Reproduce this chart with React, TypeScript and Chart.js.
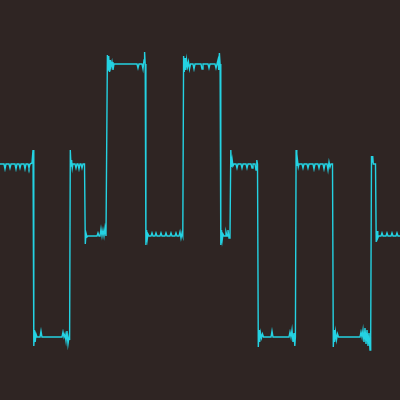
import React, { useEffect, useRef } from "react";
import { Chart, registerables } from "chart.js";

Chart.register(...registerables);

// Sample times (horizontal position, 0..400) and signal values
const times: number[] = [
  // level +0.36
  0, 4, 5, 6, 9, 10, 11, 15, 16, 17, 19, 20, 21, 24, 25, 26, 28, 29, 30, 32, 33,
  // level -1.37
  33.8, 34.5, 35.2, 36, 37, 40, 41, 42, 62, 63, 64, 65, 66, 67, 68, 69, 69.6,
  // level +0.36
  70.3, 71, 71.6, 72.3, 73, 75, 76, 77, 78, 79, 80, 81, 82, 83, 84.5,
  // level -0.36
  85.3, 86, 87, 88, 97, 98, 99, 100, 101, 102, 103, 104, 105, 106, 106.6,
  // level +1.36
  107.4, 108, 108.7, 109.5, 110.3, 111, 112, 113, 114, 137, 138, 139, 142, 143, 144, 144.6, 145.2,
  // level -0.36
  145.9, 146.6, 147.3, 148, 149, 151, 152, 153, 155, 156, 157, 160, 161, 162, 165, 166, 167, 170, 171, 172, 175, 176, 177, 179, 180, 181, 182, 182.8,
  // level +1.36
  183.6, 184.3, 185, 185.8, 186.6, 187.5, 188.5, 189.5, 190.5, 193, 194, 195, 201, 202, 203, 208, 209, 210, 215, 216, 217, 218, 218.7, 219.4, 220.1,
  // level -0.36
  220.8, 221.5, 222.2, 223, 224, 225, 226, 227, 228, 229, 230,
  // level +0.36
  230.8, 231.5, 232.2, 233, 234, 236, 237, 238, 241, 242, 243, 246, 247, 248, 251, 252, 253, 255, 256, 256.8, 257.5,
  // level -1.37
  258.3, 259, 259.7, 260.5, 261.5, 262.5, 263.5, 271, 272, 273, 289, 290, 291, 292, 293, 294, 294.8, 295.4,
  // level +0.36
  296.1, 296.8, 297.5, 298.3, 299, 302, 303, 304, 307, 308, 309, 313, 314, 315, 318, 319, 320, 323, 324, 325, 327, 328, 329, 330, 331, 332.5,
  // level -1.37
  333.3, 334, 334.7, 335.5, 336.5, 337.5, 338.5, 360, 361, 362, 363, 364, 365, 366, 367, 368, 369, 370, 370.7,
  // level +0.36
  371.5, 372.1, 372.7, 373.3, 374, 375.5,
  // level -0.36
  376.2, 377, 377.8, 378.6, 381, 382, 383, 386, 387, 388, 391, 392, 393, 396, 397, 398, 400,
];

const values: number[] = [
  0.36, 0.36, 0.31, 0.36, 0.36, 0.32, 0.36, 0.36, 0.31, 0.36, 0.36, 0.32, 0.36, 0.36, 0.31, 0.36, 0.36, 0.32, 0.36, 0.37, 0.5,
  -1.46, -1.3, -1.42, -1.34, -1.37, -1.37, -1.31, -1.37, -1.37, -1.32, -1.37, -1.34, -1.41, -1.31, -1.44, -1.37, -1.4,
  0.5, 0.34, 0.4, 0.32, 0.36, 0.36, 0.32, 0.36, 0.36, 0.31, 0.36, 0.36, 0.32, 0.36, 0.36,
  -0.44, -0.33, -0.37, -0.36, -0.36, -0.33, -0.36, -0.36, -0.29, -0.36, -0.3, -0.36, -0.28, -0.36, -0.36,
  1.45, 1.3, 1.44, 1.28, 1.4, 1.33, 1.38, 1.3, 1.36, 1.36, 1.32, 1.36, 1.36, 1.31, 1.4, 1.48, 1.36,
  -0.45, -0.3, -0.39, -0.34, -0.36, -0.36, -0.33, -0.36, -0.36, -0.33, -0.36, -0.36, -0.33, -0.36, -0.36, -0.33, -0.36, -0.36, -0.33, -0.36, -0.36, -0.33, -0.36, -0.36, -0.32, -0.38, -0.33, -0.36,
  1.44, 1.28, 1.42, 1.3, 1.4, 1.33, 1.38, 1.31, 1.36, 1.36, 1.31, 1.36, 1.36, 1.31, 1.36, 1.36, 1.32, 1.36, 1.36, 1.32, 1.36, 1.4, 1.3, 1.47, 1.36,
  -0.45, -0.3, -0.4, -0.34, -0.36, -0.36, -0.32, -0.36, -0.3, -0.38, -0.36,
  0.5, 0.33, 0.4, 0.34, 0.36, 0.36, 0.32, 0.36, 0.36, 0.32, 0.36, 0.36, 0.32, 0.36, 0.36, 0.32, 0.36, 0.36, 0.3, 0.4, 0.36,
  -1.47, -1.3, -1.42, -1.33, -1.38, -1.34, -1.37, -1.37, -1.31, -1.37, -1.37, -1.32, -1.37, -1.3, -1.42, -1.33, -1.46, -1.37,
  0.5, 0.34, 0.4, 0.33, 0.36, 0.36, 0.32, 0.36, 0.36, 0.32, 0.36, 0.36, 0.31, 0.36, 0.36, 0.32, 0.36, 0.36, 0.31, 0.36, 0.36, 0.3, 0.38, 0.33, 0.36, 0.36,
  -1.47, -1.3, -1.42, -1.32, -1.4, -1.34, -1.37, -1.37, -1.32, -1.37, -1.3, -1.42, -1.28, -1.44, -1.3, -1.46, -1.33, -1.5, -1.37,
  0.44, 0.38, 0.44, 0.36, 0.36, 0.36,
  -0.42, -0.31, -0.38, -0.36, -0.36, -0.33, -0.36, -0.36, -0.33, -0.36, -0.36, -0.33, -0.36, -0.36, -0.33, -0.36, -0.36,
];

const BG = "#2f2523";
const LINE = "#24d2e2";

export default function App() {
  const ref = useRef<HTMLCanvasElement | null>(null);

  useEffect(() => {
    document.body.style.margin = "0";
    document.body.style.background = BG;
    const canvas = ref.current;
    if (!canvas) return;
    const points = times.map((t, i) => ({ x: t, y: values[i] }));
    const chart = new Chart(canvas, {
      type: "line",
      data: {
        datasets: [
          {
            data: points,
            borderColor: LINE,
            borderWidth: 1.4,
            pointRadius: 0,
            tension: 0,
            fill: false,
          },
        ],
      },
      options: {
        animation: false,
        responsive: false,
        maintainAspectRatio: false,
        layout: { padding: 0 },
        plugins: { legend: { display: false }, tooltip: { enabled: false } },
        scales: {
          x: { type: "linear", min: 0, max: 400, display: false },
          y: { type: "linear", min: -2, max: 2, display: false },
        },
      },
    });
    return () => chart.destroy();
  }, []);

  return (
    <div style={{ width: 400, height: 400, background: BG }}>
      <canvas ref={ref} width={400} height={400} style={{ display: "block" }} />
    </div>
  );
}
